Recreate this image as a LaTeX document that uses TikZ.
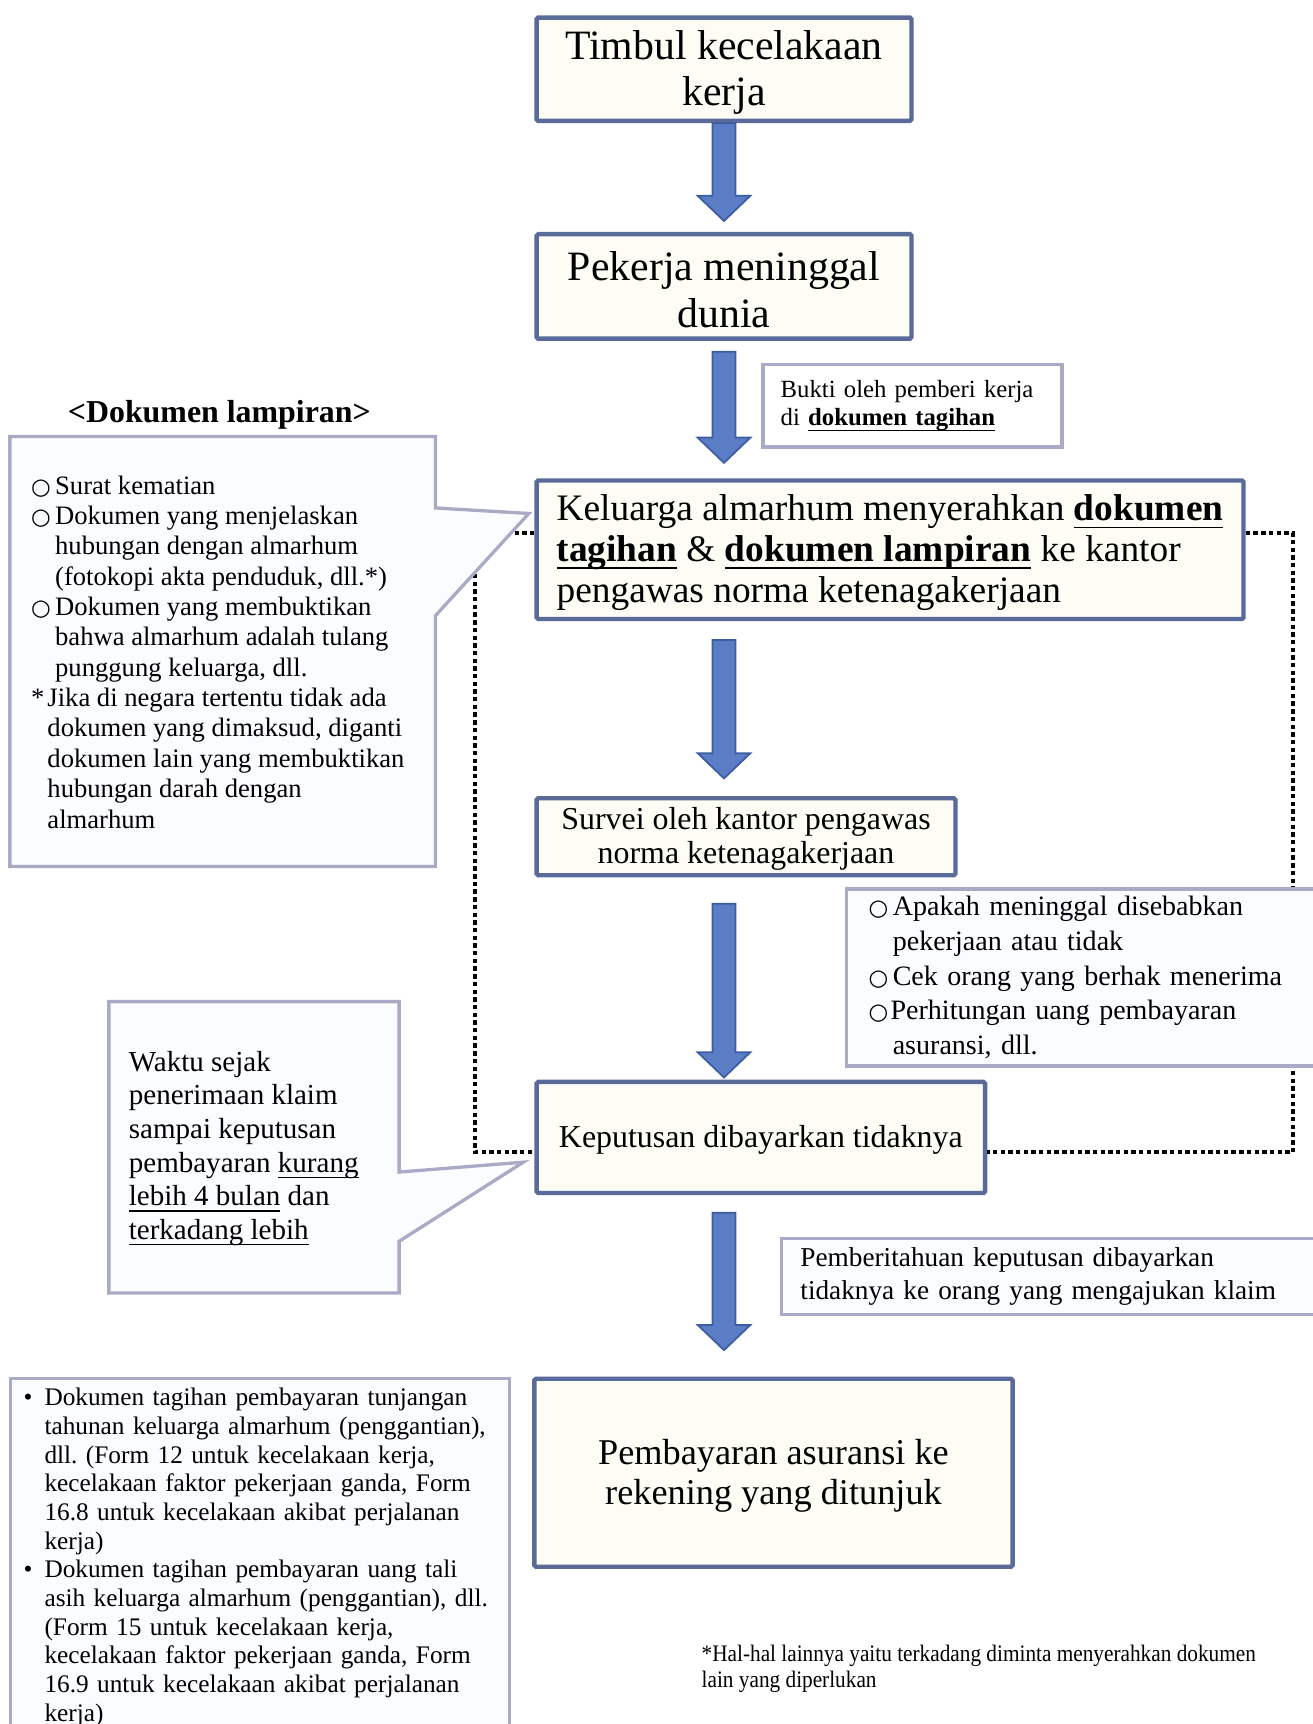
\documentclass[tikz,border=0pt]{standalone}
\usepackage{fontspec}
\setmainfont{Liberation Serif}
\newfontfamily\condfont[FakeStretch=0.9]{Liberation Serif}
\newfontfamily\symfont{DejaVu Sans}
\usepackage{tikz}
\usetikzlibrary{calc}
\frenchspacing
\definecolor{boxedge}{HTML}{5A6A99}
\definecolor{boxfill}{HTML}{FDFDF5}
\definecolor{arrowfill}{HTML}{5B7DC6}
\definecolor{arrowedge}{HTML}{3D5DA3}
\definecolor{noteedge}{HTML}{A8AAC6}
\definecolor{notefill}{HTML}{FBFCFF}
\tikzstyle{flowbox}=[draw=boxedge, line width=4pt, fill=boxfill, rectangle, rounded corners=1.5pt, align=center, inner sep=0pt]
\tikzstyle{notebox}=[draw=noteedge, line width=3pt, fill=notefill, rectangle, align=left]
\tikzstyle{callout}=[draw=noteedge, line width=3pt, fill=notefill, line join=miter]
\tikzstyle{dotline}=[draw, line width=4pt, dash pattern=on 4pt off 3pt]
\tikzstyle{fatarrow}=[fill=arrowfill, draw=arrowedge, line width=1.6pt, line join=miter]
\newcommand{\fs}[2]{\fontsize{#1}{#2}\selectfont}
\newcommand{\atas}{\rule{0pt}{0.85em}}
\newcommand{\bulat}{{\symfont\fontsize{20.5}{20.5}\selectfont ○}}
\newcommand{\lingkar}{\makebox[22pt][l]{\bulat}}
\newcommand{\titik}{\makebox[19pt][l]{•}}
\newcommand{\geser}[1]{\hspace*{#1pt}}
\newsavebox{\garisbox}
\newcommand{\garis}[1]{\sbox{\garisbox}{#1}\rlap{\rule[-0.2em]{\wd\garisbox}{0.05em}}\usebox{\garisbox}}
\newcommand{\flowarrow}[2]{\path[fatarrow] let \p1=(t1.south), \p2=(#1), \p3=(#2) in
  (\x1-10.5pt,\y2) -- (\x1+10.5pt,\y2) -- (\x1+10.5pt,\y3+23pt) -- (\x1+24pt,\y3+23pt)
  -- (\x1,\y3) -- (\x1-24pt,\y3+23pt) -- (\x1-10.5pt,\y3+23pt) -- cycle;}

\begin{document}
\begin{tikzpicture}[x=1pt, y=-1pt]
	\useasboundingbox (0,0) rectangle (1194,1568);
	\clip (0,0) rectangle (1194,1568);
	\fill[white] (0,0) rectangle (1194,1568);

	\node[flowbox, minimum width=341, minimum height=94, font=\fs{38}{42}] (t1) at (658.5,63) {\atas Timbul kecelakaan\\kerja};
	\node[flowbox, minimum width=341, minimum height=95, font=\fs{38}{42}] (t2) at (658.5,260.5) {\atas Pekerja meninggal\\dunia};
	\node[flowbox, align=left, minimum width=643, minimum height=126, font=\fs{34}{37}] (klaim) at (809.5,500) {\atas Keluarga almarhum menyerahkan \garis{\textbf{dokumen}}\\\garis{\textbf{tagihan}} \& \garis{\textbf{dokumen lampiran}} ke kantor\\pengawas norma ketenagakerjaan};
	\node[flowbox, minimum width=381, minimum height=70, font=\fs{29}{31}] (survei) at (678.5,761) {\atas Survei oleh kantor pengawas\\norma ketenagakerjaan};
	\node[flowbox, minimum width=408, minimum height=101, font=\fs{29}{31}] (putus) at (692,1034.5) {\atas Keputusan dibayarkan tidaknya};
	\node[flowbox, minimum width=435, minimum height=171, font=\fs{33}{36}] (bayar) at (703.5,1339.5) {\atas Pembayaran asuransi ke\\rekening yang ditunjuk};

	\flowarrow{t1.south}{[yshift=10pt]t2.north}
	\flowarrow{[yshift=-10pt]t2.south}{[yshift=14pt]klaim.north}
	\flowarrow{[yshift=-17pt]klaim.south}{[yshift=16pt]survei.north}
	\flowarrow{[yshift=-24pt]survei.south}{[yshift=2pt]putus.north}
	\flowarrow{[yshift=-16pt]putus.south}{[yshift=24pt]bayar.north}

	\draw[dotline] ([yshift=-50pt]klaim.north west) -| ([xshift=-54pt,yshift=-13.5pt]putus.west) -- ([yshift=-13.5pt]putus.west);
	\draw[dotline] ([yshift=-50pt]klaim.north east) -- ++(43,0) |- ([yshift=-13.5pt]putus.east);

	\node[notebox, fill=white, text width=240, inner xsep=16, minimum height=75, font=\fs{22.5}{26}] (bukti) at (830,369) {Bukti oleh pemberi kerja\\di \garis{\textbf{dokumen tagihan}}};
	\node[notebox, text width=405, inner xsep=20, minimum height=161, font=\fs{25.5}{31.5}] (cek) at (992.5,889) {\lingkar Apakah meninggal disebabkan\\\geser{22}pekerjaan atau tidak\\\lingkar Cek orang yang berhak menerima\\\makebox[20pt][l]{\bulat}Perhitungan uang pembayaran\\\geser{22}asuransi, dll.};
	\node[notebox, text width=470, inner xsep=17, minimum height=69, font=\fs{24.8}{30}] (beritahu) at (963,1161) {Pemberitahuan keputusan dibayarkan\\tidaknya ke orang yang mengajukan klaim};

	\node[font=\fs{29}{31}\bfseries] (judul) at (199.5,377) {<Dokumen lampiran>};
	\path[callout] (9,397) -- (396,397) -- (396,462) -- (481,467) -- (396,560) -- (396,788) -- (9,788) -- cycle;
	\node[anchor=west, align=left, inner sep=0, font=\fs{24.2}{27.6}] (lampiran) at (28,593) {\lingkar Surat kematian\\\lingkar Dokumen yang menjelaskan\\\geser{22}hubungan dengan almarhum\\\geser{22}(fotokopi akta penduduk, dll.*)\\\lingkar Dokumen yang membuktikan\\\geser{22}bahwa almarhum adalah tulang\\\geser{22}punggung keluarga, dll.\\\makebox[15pt][l]{*}Jika di negara tertentu tidak ada\\\geser{15}dokumen yang dimaksud, diganti\\\geser{15}dokumen lain yang membuktikan\\\geser{15}hubungan darah dengan\\\geser{15}almarhum};

	\path[callout] (99,911) -- (363,911) -- (363,1066) -- (476,1057) -- (363,1129) -- (363,1176) -- (99,1176) -- cycle;
	\node[anchor=west, align=left, inner sep=0, font=\fs{26.4}{30.6}] (waktu) at (117,1044.5) {Waktu sejak\\penerimaan klaim\\sampai keputusan\\pembayaran \garis{kurang}\\\garis{lebih 4 bulan} dan\\\garis{terkadang lebih}};

	\node[notebox, anchor=north west, text width=430, inner xsep=12, inner ysep=9, font=\fs{23}{26.1}] (formulir) at (8,1252) {\titik Dokumen tagihan pembayaran tunjangan\\\geser{19}tahunan keluarga almarhum (penggantian),\\\geser{19}dll. (Form 12 untuk kecelakaan kerja,\\\geser{19}kecelakaan faktor pekerjaan ganda, Form\\\geser{19}16.8 untuk kecelakaan akibat perjalanan\\\geser{19}kerja)\\\titik Dokumen tagihan pembayaran uang tali\\\geser{19}asih keluarga almarhum (penggantian), dll.\\\geser{19}(Form 15 untuk kecelakaan kerja,\\\geser{19}kecelakaan faktor pekerjaan ganda, Form\\\geser{19}16.9 untuk kecelakaan akibat perjalanan\\\geser{19}kerja)};

	\node[anchor=west, align=left, inner sep=0, font=\condfont\fs{21.5}{24}] (catatan) at (638,1518) {*Hal-hal lainnya yaitu terkadang diminta menyerahkan dokumen\\lain yang diperlukan};
\end{tikzpicture}
\end{document}
